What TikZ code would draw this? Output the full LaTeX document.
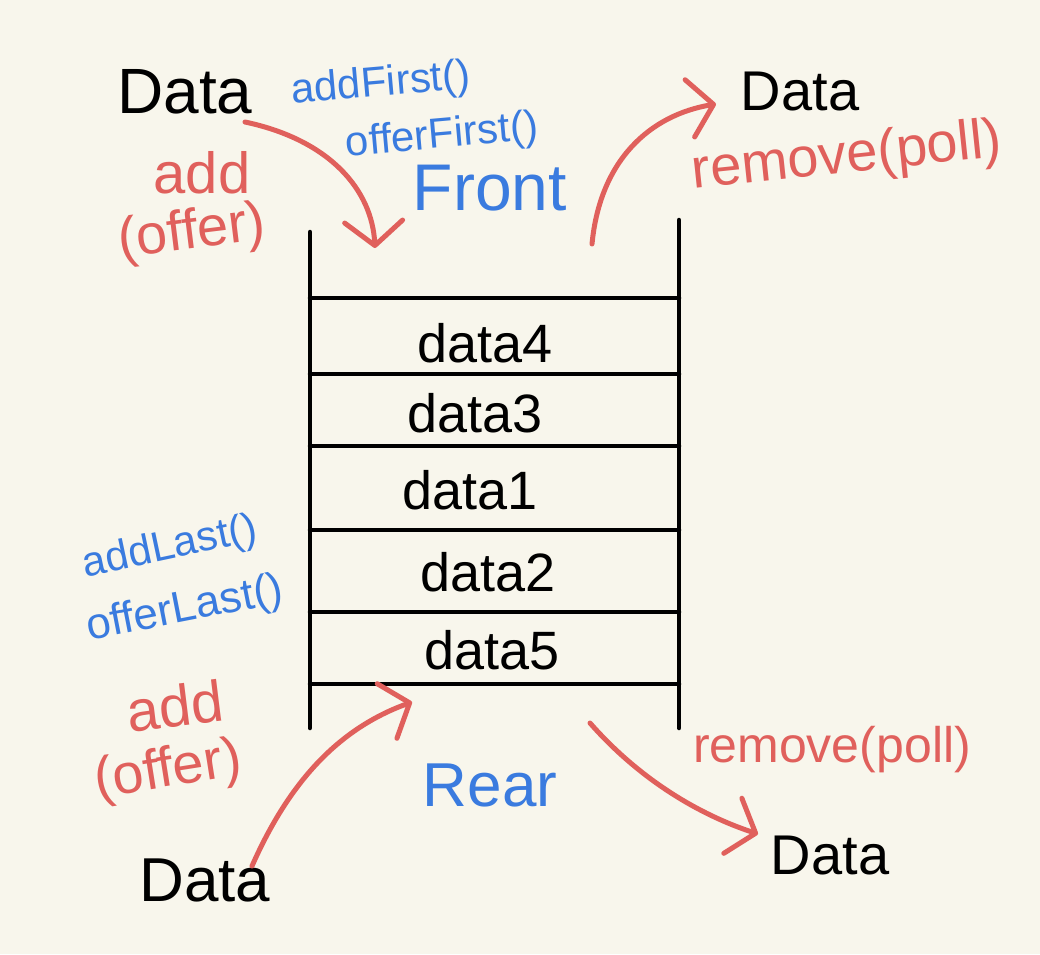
\documentclass[tikz,border=0pt]{standalone}
\usepackage{fontspec}
\setmainfont{Liberation Sans}
\usetikzlibrary{arrows.meta}
\definecolor{bgc}{HTML}{F8F6EC}
\definecolor{redc}{HTML}{E0605C}
\definecolor{bluec}{HTML}{3A7BDF}
\tikzset{
  stackline/.style={line width=4.5pt, black, line cap=round},
  arr/.style={line width=5pt, redc, line cap=round, -{Straight Barb[length=24pt, width=58pt, line cap=round, line join=round]}},
  blk/.style={text=black, inner sep=0pt, anchor=center},
  redt/.style={text=redc, inner sep=0pt, anchor=center},
  bluet/.style={text=bluec, inner sep=0pt, anchor=center},
}
\begin{document}
\begin{tikzpicture}[x=1pt,y=-1pt]
\fill[bgc] (0,0) rectangle (1040,954);
\useasboundingbox (0,0) rectangle (1040,954);
% stack
\coordinate (lt) at (310,232); \coordinate (lb) at (310,728);
\coordinate (rt) at (679,220); \coordinate (rb) at (679,728);
\draw[stackline] (lt) -- (lb);
\draw[stackline] (rt) -- (rb);
\foreach \y/\n in {298/h1,374/h2,446/h3,530/h4,612/h5,684/h6}{
  \coordinate (\n l) at (310,\y); \coordinate (\n r) at (679,\y);
  \draw[stackline] (\n l) -- (\n r);
}
\node[blk, font=\fontsize{54}{54}\selectfont] (c4) at (485,343) {data4};
\node[blk, font=\fontsize{54}{54}\selectfont] (c3) at (475,413) {data3};
\node[blk, font=\fontsize{54}{54}\selectfont] (c1) at (470,490) {data1};
\node[blk, font=\fontsize{54}{54}\selectfont] (c2) at (488,572) {data2};
\node[blk, font=\fontsize{54}{54}\selectfont] (c5) at (492,650) {data5};
% top left
\node[blk, font=\fontsize{64}{64}\selectfont] (dTL) at (185,92) {Data};
\node[bluet, font=\fontsize{42}{42}\selectfont, rotate=5] (af) at (381,85) {addFirst()};
\node[bluet, font=\fontsize{42}{42}\selectfont, rotate=5] (of) at (442,137) {offerFirst()};
\node[redt, font=\fontsize{58}{58}\selectfont] (add1) at (202,173) {add};
\node[redt, font=\fontsize{56}{56}\selectfont, rotate=7] (off1) at (192,234) {(offer)};
\node[bluet, font=\fontsize{66}{66}\selectfont] (front) at (490,188) {Front};
\coordinate (tlE) at (375,248);
\draw[arr] (245,122) .. controls (330,140) and (372,190) .. (tlE);
% top right
\node[blk, font=\fontsize{56}{56}\selectfont] (dTR) at (800,92) {Data};
\node[redt, font=\fontsize{56}{56}\selectfont, rotate=6] (rem1) at (847,158) {remove(poll)};
\coordinate (trS) at (592,244);
\draw[arr] (trS) .. controls (600,160) and (650,115) .. (716,104);
% bottom left
\node[bluet, font=\fontsize{42}{42}\selectfont, rotate=12] (al) at (170,548) {addLast()};
\node[bluet, font=\fontsize{44}{44}\selectfont, rotate=11] (ol) at (185,610) {offerLast()};
\node[redt, font=\fontsize{58}{58}\selectfont, rotate=7] (add2) at (175,706) {add};
\node[redt, font=\fontsize{56}{56}\selectfont, rotate=9] (off2) at (168,772) {(offer)};
\node[blk, font=\fontsize{62}{62}\selectfont] (dBL) at (205,880) {Data};
\coordinate (blE) at (412,702);
\draw[arr] (252,866) .. controls (290,780) and (340,728) .. (blE);
% rear
\node[bluet, font=\fontsize{62}{62}\selectfont] (rear) at (490,785) {Rear};
% bottom right
\node[redt, font=\fontsize{50}{50}\selectfont] (rem2) at (832,750) {remove(poll)};
\node[blk, font=\fontsize{56}{56}\selectfont] (dBR) at (830,855) {Data};
\coordinate (brS) at (590,723);
\draw[arr] (brS) .. controls (640,780) and (700,815) .. (758,834);
\end{tikzpicture}
\end{document}
